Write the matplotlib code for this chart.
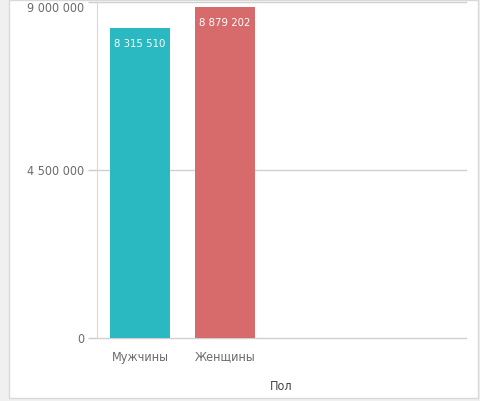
import matplotlib.pyplot as plt
from matplotlib import font_manager as fm
from matplotlib.patches import Rectangle

# Data
categories = ['Мужчины', 'Женщины']
values = [8315510, 8879202]
colors = ['#2bb9c1', '#d76b6b']
yticks = [0, 4500000, 9000000]


def fmt(v):
    return f'{v:,}'.replace(',', ' ')


# pick a narrow font if one is around
fonts = fm.fontManager.ttflist
if any(f.name == 'Liberation Sans Narrow' for f in fonts):
    FONT, STRETCH, K = 'Liberation Sans Narrow', 'normal', 1.0
elif any(f.name == 'DejaVu Sans' and f.stretch == 'condensed' for f in fonts):
    FONT, STRETCH, K = 'DejaVu Sans', 'condensed', 0.95
else:
    FONT, STRETCH, K = 'Liberation Sans', 'normal', 0.88

txt = dict(family=FONT, stretch=STRETCH)

fig = plt.figure(figsize=(4.8, 4.01), dpi=100, facecolor='#f0f0f0')
# white panel
fig.patches.append(Rectangle((9 / 480, 3 / 401), 469 / 480, 398 / 401,
                             transform=fig.transFigure, facecolor='white',
                             edgecolor='#d9d9d9', linewidth=1, zorder=-10))

ax = fig.add_axes([97 / 480, 1 - 338 / 401, 369 / 480, 336 / 401])
ax.set_facecolor('none')
ax.set_zorder(1)

x = list(range(len(categories)))
bars = ax.bar(x, values, width=0.7, color=colors, zorder=3)
ax.set_xlim(-0.506, 3.835)
ax.set_ylim(0, 9000000)

ax.set_yticks(yticks)
ax.set_yticklabels([fmt(v) for v in yticks], fontsize=9.5 * K,
                   color='#6b6b6b', **txt)
ax.get_yticklabels()[-1].set_va('top')
ax.set_xticks(x)
ax.set_xticklabels(categories, fontsize=9.5 * K, color='#6b6b6b', **txt)
ax.tick_params(axis='y', length=6.5, width=1, color='#cccccc', pad=2.5)
ax.tick_params(axis='x', length=0, pad=9)
ax.grid(axis='y', color='#d0d0d0', linewidth=1, zorder=1)
ax.set_axisbelow(True)
for gl in ax.get_ygridlines():
    gl.set_clip_on(False)

for s in ['top', 'right', 'bottom']:
    ax.spines[s].set_visible(False)
ax.spines['left'].set_color('#ddd6e0')

ax.set_xlabel('Пол', fontsize=9.5 * K, color='#444444', labelpad=12, **txt)

for bar, v in zip(bars, values):
    ax.annotate(fmt(v), (bar.get_x() + bar.get_width() / 2, v),
                xytext=(0, -8), textcoords='offset points', ha='center',
                va='top', color='white', fontsize=8.5 * K, zorder=4, **txt)

fig.savefig('out.png', dpi=100, facecolor=fig.get_facecolor())
